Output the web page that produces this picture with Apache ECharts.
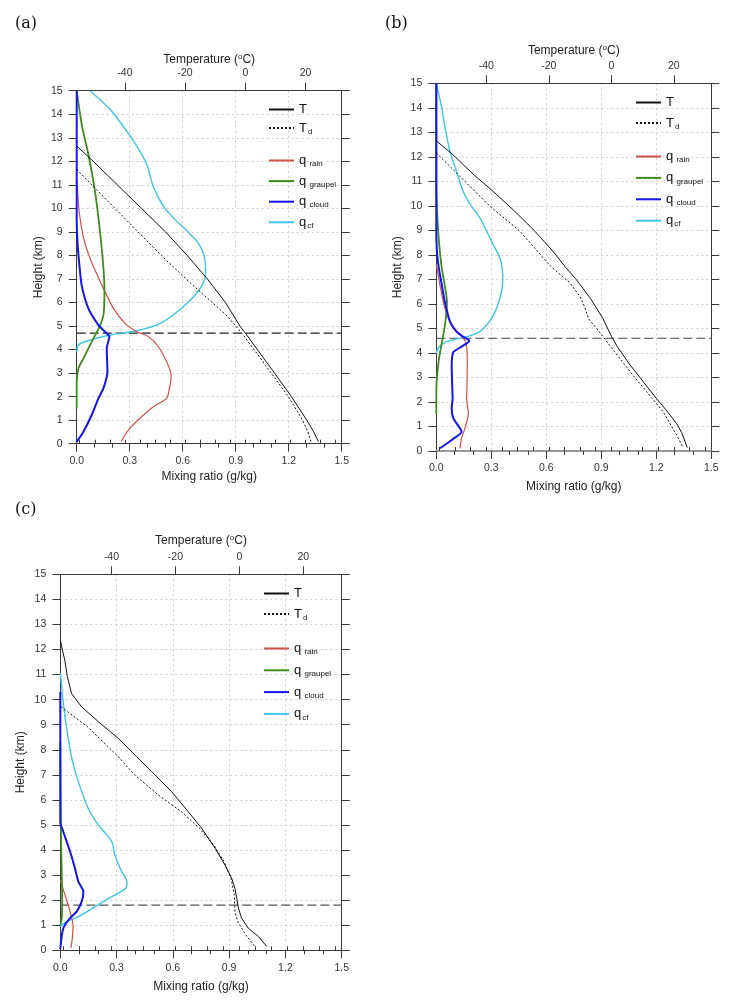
<!DOCTYPE html>
<html><head><meta charset="utf-8">
<script src="https://cdn.jsdelivr.net/npm/echarts@6/dist/echarts.min.js"></script>
<style>html,body{margin:0;padding:0;background:#fff}#c{width:744px;height:1006px}</style>
</head><body><div id="c"></div>
<script>
// ---------- data: [value, height(km)] ----------
// Panel (a)
const a_T = [[-56,12.65],[-50.5,12],[-42.5,11],[-34.5,10],[-26.5,9],[-19.3,8],[-12.6,7],[-6.6,6],[-1.8,5],[0,4.7],[4,4],[9.7,3],[15.3,2],[20.4,1],[22.7,0.5],[24.3,0.08]];
const a_Td = [[-56,11.66],[-51,11],[-43.3,10],[-35.6,9],[-27.9,8],[-19.7,7],[-11,6],[-6.4,5.47],[-3.2,5],[-1.2,4.7],[2.9,4],[8.6,3],[14.3,2],[19,1],[20.8,0.5],[21.8,0.08]];
const a_rain = [[0,11.2],[0.004,10.9],[0.012,10],[0.025,9.3],[0.04,8.7],[0.06,8.2],[0.085,7.7],[0.12,7.1],[0.151,6.6],[0.208,5.75],[0.274,5.11],[0.34,4.76],[0.406,4.55],[0.462,4.12],[0.509,3.48],[0.535,2.92],[0.525,2.35],[0.509,1.93],[0.434,1.57],[0.358,1.08],[0.292,0.58],[0.252,0.1]];
const a_graupel = [[0,15],[0.03,13.5],[0.066,12.3],[0.104,10.7],[0.132,9.0],[0.151,7.5],[0.157,6.5],[0.152,5.5],[0.125,4.9],[0.085,4.33],[0.04,3.65],[0.01,3.2],[0,2.6],[0,1.5]];
const a_cloud = [[0,15],[0,9.5],[0.005,8.5],[0.015,7.6],[0.028,6.74],[0.066,5.75],[0.123,5.04],[0.16,4.76],[0.185,4.55],[0.17,4.05],[0.174,3.06],[0.151,2.35],[0.123,1.93],[0.085,1.22],[0.038,0.51],[0,0.08]];
const a_cf = [[0.075,15],[0.19,14.2],[0.30,13.1],[0.36,12.4],[0.40,11.8],[0.43,11.0],[0.46,10.5],[0.50,10.0],[0.56,9.5],[0.63,9.0],[0.69,8.5],[0.72,8.0],[0.73,7.4],[0.725,7.0],[0.69,6.5],[0.60,5.8],[0.47,5.1],[0.34,4.8],[0.19,4.62],[0.075,4.4],[0.01,4.2],[0,3.9]];
// Panel (b)
const b_T = [[-56,12.65],[-51.3,12.16],[-44,11.27],[-37.8,10.59],[-30.9,9.78],[-24.4,8.96],[-18.7,8.15],[-14.6,7.49],[-11.5,7.04],[-6.7,6.23],[-2.7,5.41],[0.1,4.66],[1.9,4.26],[6,3.51],[10.2,2.83],[14.4,2.15],[18,1.6],[21.2,1.06],[22.5,0.75],[23.2,0.52],[24.3,0.14]];
const b_Td = [[-56,12.16],[-49.5,11.34],[-38.8,9.98],[-29.2,8.96],[-19.5,7.55],[-13.2,6.85],[-10,6.3],[-8.6,5.9],[-7.3,5.4],[-4.7,5.0],[-2.6,4.66],[0.6,4.12],[6,3.24],[11.3,2.42],[16.6,1.6],[20.9,0.65],[23,0.14]];
const b_rain = [[0,7.6],[0.02,6.77],[0.047,5.82],[0.093,5.0],[0.147,4.6],[0.165,4.32],[0.169,3.51],[0.167,2.6],[0.165,2.15],[0.175,1.54],[0.156,0.92],[0.138,0.52],[0.129,0.11]];
const b_graupel = [[0,15],[0,11],[0.003,10],[0.006,9.5],[0.015,8.5],[0.029,7.5],[0.045,6.8],[0.058,6.1],[0.05,5.3],[0.035,4.6],[0.015,3.78],[0.003,2.96],[0,2.3],[0,1.5]];
const b_cloud = [[0,15],[0,8.9],[0.005,8],[0.013,7.5],[0.03,6.77],[0.047,6.07],[0.075,5.28],[0.111,4.87],[0.147,4.66],[0.18,4.49],[0.138,4.26],[0.093,4.03],[0.084,3.51],[0.087,2.6],[0.089,2.15],[0.084,1.74],[0.093,1.33],[0.138,0.79],[0.084,0.45],[0.02,0.11]];
const b_cf = [[0,15],[0.015,14.5],[0.03,14.0],[0.045,13.3],[0.075,12.2],[0.11,11.4],[0.147,10.59],[0.19,10.0],[0.238,9.51],[0.31,8.42],[0.345,7.9],[0.36,7.4],[0.363,7.0],[0.347,6.23],[0.302,5.41],[0.238,4.87],[0.165,4.66],[0.056,4.46],[0.01,4.2],[0,3.98]];
// Panel (c)
const c_T = [[-56,12.38],[-55.2,11.9],[-54.6,11.58],[-53.8,10.92],[-52.5,10.25],[-49.4,9.72],[-44.1,9.12],[-37.9,8.46],[-32.2,7.73],[-27.4,7.13],[-21.2,6.33],[-16,5.53],[-11.8,4.87],[-7.6,4.07],[-4.5,3.4],[-2.4,2.87],[-1.4,2.47],[-0.8,2.07],[-0.3,1.68],[0.7,1.28],[2.8,0.88],[5.95,0.55],[8.6,0.15]];
const c_Td = [[-55.8,9.72],[-47.5,8.92],[-37.9,7.73],[-32.7,6.99],[-25.4,6.2],[-18.1,5.53],[-12.5,4.87],[-8,4.2],[-4.8,3.54],[-2.6,2.87],[-1.6,2.21],[-1.4,1.54],[-0.5,1.14],[2.0,0.61],[5.2,0.1]];
const c_rain = [[0,2.8],[0.025,2.21],[0.052,1.54],[0.068,1.0],[0.064,0.48],[0.057,0.1]];
const c_graupel = [[0,8.3],[0.002,6],[0.005,4],[0.008,3],[0.01,2],[0.008,1.3],[0,1.0]];
const c_cloud = [[0,10.3],[0,5.1],[0.016,4.73],[0.052,3.94],[0.078,3.27],[0.096,2.74],[0.123,2.34],[0.114,1.94],[0.087,1.54],[0.052,1.28],[0.016,0.88],[0.004,0.35],[0,0.05]];
const c_cf = [[0,11.05],[0.008,10.5],[0.016,9.85],[0.034,8.86],[0.06,7.7],[0.096,6.73],[0.149,5.66],[0.203,5.0],[0.274,4.34],[0.291,3.8],[0.327,3.14],[0.355,2.75],[0.352,2.5],[0.274,2.14],[0.185,1.74],[0.096,1.34],[0.034,1.14],[0,0.95]];

const freezingLevels = [4.7, 4.6, 1.8];
const panelLabels = ['(a)', '(b)', '(c)'];
const tempTicks = [-40, -20, 0, 20];
const tempMinorTicks = [-55,-50,-45,-40,-35,-30,-25,-20,-15,-10,-5,0,5,10,15,20,25,30];
const tempRange = [-56, 32];
const mrRange = [0, 1.5];
const heightRange = [0, 15];

// ---------- layout ----------
const FONT = 'Liberation Sans';
const panels = [
  {grid:{left:76.7, top:90.7, width:265, height:353}, T:a_T, Td:a_Td, rain:a_rain, graupel:a_graupel, cloud:a_cloud, cf:a_cf,
   gapTop:24, gapBottom:27, gapLeft:32, legLeft:268, leg1Top:103, leg2Top:153, leg1Gap:4.5, leg2Gap:5.6, title:{left:10, top:11}, fzColor:'#222', bottomAxis:{color:'#3a3a3a', width:1}},
  {grid:{left:436.3, top:83.3, width:275, height:367.7}, T:b_T, Td:b_Td, rain:b_rain, graupel:b_graupel, cloud:b_cloud, cf:b_cf,
   gapTop:26, gapBottom:29.5, gapLeft:33, legLeft:635, leg1Top:96, leg2Top:149, leg1Gap:6.5, leg2Gap:6.4, title:{left:380, top:11}, fzColor:'#444', bottomAxis:{color:'#999', width:2}},
  {grid:{left:60.3, top:574.3, width:281.4, height:376}, T:c_T, Td:c_Td, rain:c_rain, graupel:c_graupel, cloud:c_cloud, cf:c_cf,
   gapTop:27, gapBottom:30, gapLeft:34, legLeft:263, leg1Top:587, leg2Top:641, leg1Gap:6.5, leg2Gap:6.8, title:{left:10, top:497}, fzColor:'#555', bottomAxis:{color:'#3a3a3a', width:1}}
];

const AX = '#3a3a3a';
const LBL = '#333';
const gridLine = {show:true, lineStyle:{color:'#cfcfcf', type:[2,3], width:1}};

const option = {
  animation:false,
  backgroundColor:'#fff',
  textStyle:{fontFamily:FONT},
  title:[], grid:[], xAxis:[], yAxis:[], series:[], legend:[]
};

const legendRich = {
  m:{fontSize:13, fontFamily:FONT, color:'#111', lineHeight:14},
  s:{fontSize:8, fontFamily:FONT, color:'#111', lineHeight:9, padding:[7,0,0,1]}
};
const legendLabel = {
  'T':'{m|T}', 'Td':'{m|T}{s|d}',
  'q_rain':'{m|q}{s| rain}', 'q_graupel':'{m|q}{s| graupel}', 'q_cloud':'{m|q}{s| cloud}', 'q_cf':'{m|q}{s|cf}'
};

panels.forEach((p, k) => {
  option.title.push({text:panelLabels[k], left:p.title.left, top:p.title.top,
    textStyle:{fontFamily:'DejaVu Serif', fontSize:16, fontWeight:'normal', color:'#111'}});
  option.grid.push(Object.assign({containLabel:false}, p.grid));
  const xb = 3*k, xt = 3*k+1, yl = 2*k;
  option.xAxis.push({
    gridIndex:k, type:'value', position:'bottom', min:mrRange[0], max:mrRange[1], interval:0.3,
    name:'Mixing ratio (g/kg)', nameLocation:'middle', nameGap:p.gapBottom,
    nameTextStyle:{fontSize:12, color:'#222', fontFamily:FONT},
    axisLine:{show:true, onZero:false, lineStyle:{color:p.bottomAxis.color, width:p.bottomAxis.width}},
    axisTick:{show:true, inside:false, length:8, lineStyle:{color:AX}},
    minorTick:{show:true, splitNumber:3, length:4, lineStyle:{color:AX}},
    axisLabel:{formatter:v => v.toFixed(1), fontSize:10.5, color:LBL, margin:12, fontFamily:FONT},
    splitLine:gridLine
  });
  option.xAxis.push({
    gridIndex:k, type:'value', position:'top', min:tempRange[0], max:tempRange[1],
    name:'Temperature ({sup|o}C)', nameLocation:'middle', nameGap:p.gapTop,
    nameTextStyle:{fontSize:12, color:'#222', fontFamily:FONT, rich:{sup:{fontSize:8, fontFamily:FONT, color:'#222', padding:[0,0,6,0]}}},
    axisLine:{show:true, onZero:false, lineStyle:{color:AX, width:1}},
    axisTick:{show:true, inside:false, length:8, customValues:tempTicks, lineStyle:{color:AX}},
    axisLabel:{customValues:tempTicks, fontSize:10.5, color:LBL, margin:12, fontFamily:FONT},
    splitLine:{show:false}
  });
  option.xAxis.push({
    gridIndex:k, type:'value', position:'top', min:tempRange[0], max:tempRange[1],
    axisLine:{show:false}, axisLabel:{show:false},
    axisTick:{show:true, inside:false, length:4, customValues:tempMinorTicks, lineStyle:{color:AX}},
    splitLine:{show:false}
  });
  option.yAxis.push({
    gridIndex:k, type:'value', position:'left', min:heightRange[0], max:heightRange[1], interval:1,
    name:'Height (km)', nameLocation:'middle', nameGap:p.gapLeft,
    nameTextStyle:{fontSize:12, color:'#222', fontFamily:FONT},
    axisLine:{show:true, onZero:false, lineStyle:{color:AX, width:1}},
    axisTick:{show:true, inside:false, length:8, lineStyle:{color:AX}},
    axisLabel:{fontSize:10.5, color:LBL, margin:14, fontFamily:FONT},
    splitLine:gridLine
  });
  option.yAxis.push({
    gridIndex:k, type:'value', position:'right', min:heightRange[0], max:heightRange[1], interval:1,
    axisLine:{show:true, onZero:false, lineStyle:{color:AX, width:1}},
    axisTick:{show:true, inside:false, length:8, lineStyle:{color:AX}},
    axisLabel:{show:false}, splitLine:{show:false}
  });
  const mk = (name, data, xi, style, extra) => Object.assign({
    name, type:'line', xAxisIndex:xi, yAxisIndex:yl, data, symbol:'none', showSymbol:false,
    color:style.color, itemStyle:{color:style.color}, lineStyle:style, silent:true
  }, extra || {});
  option.series.push(
    mk('freezing', [[mrRange[0], freezingLevels[k]], [mrRange[1], freezingLevels[k]]], xb, {color:p.fzColor, width:1.2, type:[9,4]}, {z:1}),
    mk('q_cf', p.cf, xb, {color:'#3ec6e6', width:1.4}, {smooth:0.25, z:2}),
    mk('q_rain', p.rain, xb, {color:'#d0504a', width:1.2}, {smooth:0.25, z:3}),
    mk('q_graupel', p.graupel, xb, {color:'#3d8c1c', width:1.8}, {smooth:0.25, z:4}),
    mk('q_cloud', p.cloud, xb, {color:'#1414ee', width:2}, {smooth:0.2, z:5}),
    mk('T', p.T, xt, {color:'#111', width:1}, {z:6}),
    mk('Td', p.Td, xt, {color:'#111', width:1, type:[2,2]}, {z:6})
  );
  const legBase = {
    orient:'vertical', left:p.legLeft, itemWidth:25, itemHeight:14, selectedMode:false, padding:0,
    itemStyle:{opacity:0, borderWidth:0},
    formatter:n => legendLabel[n], textStyle:{fontFamily:FONT, color:'#111', rich:legendRich}
  };
  option.legend.push(Object.assign({}, legBase, {top:p.leg1Top, itemGap:p.leg1Gap, data:['T','Td']}));
  option.legend.push(Object.assign({}, legBase, {top:p.leg2Top, itemGap:p.leg2Gap, data:['q_rain','q_graupel','q_cloud','q_cf']}));
});

const chart = echarts.init(document.getElementById('c'), null, {renderer:'canvas'});
chart.setOption(option);
</script></body></html>
